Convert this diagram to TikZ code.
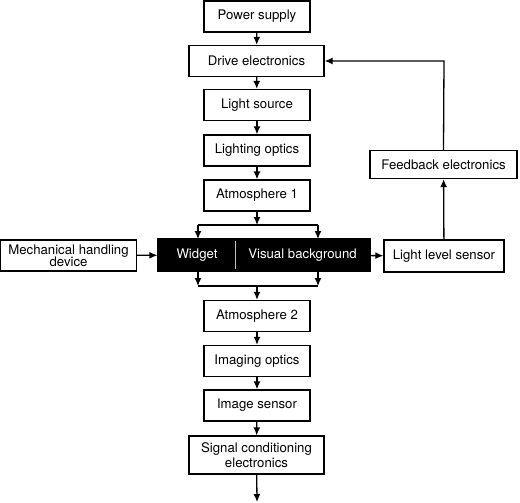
\documentclass[tikz,border=0pt]{standalone}
\usepackage{fontspec}
\setmainfont{TeX Gyre Heros}
\usetikzlibrary{arrows.meta}

\tikzset{
  blk/.style={draw, line width=1.3pt, minimum width=106pt, minimum height=31pt,
    inner sep=0pt, font=\fontsize{13.2}{13.5}\selectfont, align=center},
  wide/.style={blk, minimum width=135pt},
  flow/.style={line width=1.3pt, -{Latex[length=8pt,width=7pt]}}
}

\begin{document}
\begin{tikzpicture}[x=1pt, y=-1pt]
\useasboundingbox (0, 0) rectangle (520, 503);

% main column
\node[blk] (power) at (257, 16.5) {Power supply};
\node[wide] (drive) at (256.5, 61) {Drive electronics};
\node[blk] (source) at (257, 105) {Light source};
\node[blk] (lopt) at (257, 150.5) {Lighting optics};
\node[blk] (atm1) at (257, 195.5) {Atmosphere 1};

\draw[flow] (power) -- (drive);
\draw[flow] (drive) -- (source);
\draw[flow] (source) -- (lopt);
\draw[flow] (lopt) -- (atm1);

% black box
\node[blk, fill=black, minimum width=212pt, minimum height=32pt] (scene) at (264, 255) {};
\node[text=white, font=\fontsize{13.2}{13.5}\selectfont] (widget) at (197, 255) {Widget};
\node[text=white, font=\fontsize{13.2}{13.5}\selectfont] (visbg) at (302.5, 255) {Visual background};
\draw[white!75!black, line width=0.7pt] (235, 241) -- (235, 269);

\coordinate (top) at (257, 225);
\coordinate (topl) at (198, 225);
\coordinate (topr) at (318, 225);
\draw[flow] (atm1.south) -- (top);
\draw[line width=1.3pt] (topl) -- (topr);
\draw[flow] (topl) -- (198, 239);
\draw[flow] (topr) -- (318, 239);

\node[blk, minimum width=136pt] (mech) at (68.5, 255.5) {Mechanical handling\\[-1.5pt]device};
\draw[flow] (mech) -- (scene);

\node[blk, minimum width=120pt, minimum height=32pt] (lls) at (444, 256) {Light level sensor};
\draw[flow] (scene) -- (lls);

\node[blk, minimum width=147pt, minimum height=28pt] (feedback) at (443.5, 164.5) {Feedback electronics};
\draw[flow] (lls) -- (feedback);
\draw[flow] (feedback.north) -- (444, 61) -- (drive.east);

% lower column
\coordinate (bot) at (257, 286);
\coordinate (botl) at (198, 286);
\coordinate (botr) at (318, 286);
\draw[line width=1.3pt] (botl) -- (botr);
\draw[flow] (198, 271) -- (botl);
\draw[flow] (318, 271) -- (botr);

\node[blk] (atm2) at (257, 316) {Atmosphere 2};
\node[blk] (imgopt) at (257, 361) {Imaging optics};
\node[blk] (sensor) at (257, 405.5) {Image sensor};
\node[wide, minimum height=38pt] (signal) at (256.5, 455) {Signal conditioning\\[1.5pt]electronics};
\coordinate (out) at (257, 502);

\draw[flow] (bot) -- (atm2);
\draw[flow] (atm2) -- (imgopt);
\draw[flow] (imgopt) -- (sensor);
\draw[flow] (sensor) -- (signal);
\draw[flow] (signal) -- (out);
\end{tikzpicture}
\end{document}
